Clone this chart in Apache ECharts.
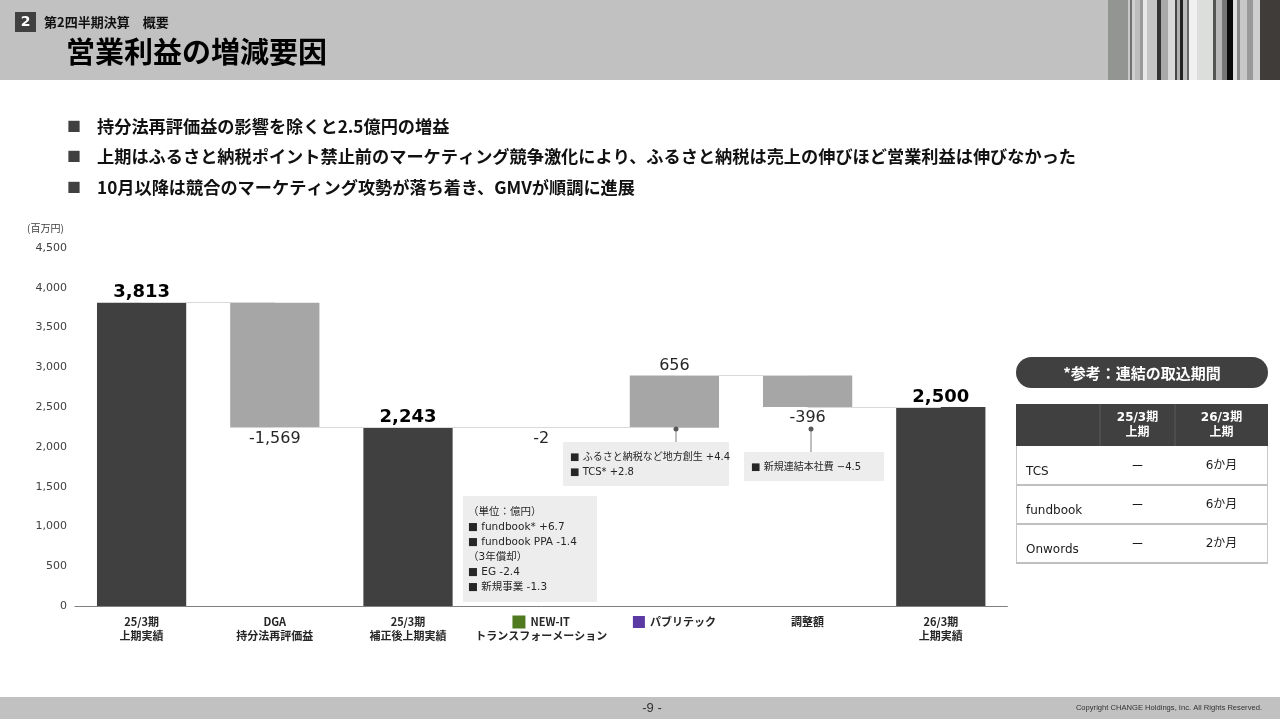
<!DOCTYPE html>
<html><head><meta charset="utf-8">
<script src="https://cdn.jsdelivr.net/npm/echarts@6.0.0/dist/echarts.min.js"></script>
<style>html,body{margin:0;padding:0;background:#fff}#c{width:1280px;height:720px}</style>
</head><body><div id="c"></div>
<script>
// ---- data ----
const categories = ['25/3期\n上期実績', 'DGA\n持分法再評価益', '25/3期\n補正後上期実績', 'NEW-IT\nトランスフォーメーション', 'パブリテック', '調整額', '26/3期\n上期実績'];
const values = [3813, -1569, 2243, -2, 656, -396, 2500];
const isTotal = [true, false, true, false, false, false, true];
const categoryMarks = [null, null, null, 'g', 'p', null, null];
const yMin = 0, yMax = 4500, yStep = 500;
const unitLabel = '(百万円)';
const bullets = [
  '持分法再評価益の影響を除くと2.5億円の増益',
  '上期はふるさと納税ポイント禁止前のマーケティング競争激化により、ふるさと納税は売上の伸びほど営業利益は伸びなかった',
  '10月以降は競合のマーケティング攻勢が落ち着き、GMVが順調に進展'
];
const note1 = ['■ ふるさと納税など地方創生 +4.4', '■ TCS* +2.8'];
const note2 = ['■ 新規連結本社費 −4.5'];
const note3 = ['（単位：億円）', '■ fundbook* +6.7', '■ fundbook PPA -1.4', '（3年償却）', '■ EG -2.4', '■ 新規事業 -1.3'];
const tableTitle = '*参考：連結の取込期間';
const tableHead = ['', '25/3期\n上期', '26/3期\n上期'];
const tableRows = [['TCS', 'ー', '6か月'], ['fundbook', 'ー', '6か月'], ['Onwords', 'ー', '2か月']];

// ---- waterfall computation ----
const bases = [], heights = [], levels = [];
let run = 0;
values.forEach((v, i) => {
  if (isTotal[i]) { bases.push(0); heights.push(v); run = v; }
  else { const s = run, e = run + v; bases.push(Math.min(s, e)); heights.push(Math.abs(v)); run = e; }
  levels.push(run);
});
const fmt = v => (v < 0 ? '-' : '') + Math.abs(v).toLocaleString('en-US');

const CJK = '"Noto Sans CJK JP", sans-serif';
const MIX = '"DejaVu Sans", "Noto Sans CJK JP", sans-serif';
const NUM = '"DejaVu Sans", sans-serif';

const connectors = [];
for (let i = 0; i < values.length - 1; i++) {
  connectors.push([{ coord: [i, levels[i]] }, { coord: [i + 1, levels[i]] }]);
}

// ---- graphics ----
const g = [];
function T(x, y, text, o) {
  o = o || {};
  g.push({ type: 'text', x: x, y: y, z: 10, style: {
    text: text, fill: o.fill || '#1a1a1a',
    font: (o.weight || 'normal') + ' ' + (o.size || 12) + 'px ' + (o.family || CJK),
    textAlign: o.align || 'left', textVerticalAlign: o.valign || 'middle',
    lineHeight: o.lh || undefined
  }});
}
function R(x, y, w, h, fill, o) {
  o = o || {};
  g.push({ type: 'rect', z: o.z || 5, shape: { x: x, y: y, width: w, height: h, r: o.r || 0 },
    style: { fill: fill, stroke: o.stroke || null, lineWidth: o.lw || 0 } });
}
function L(x1, y1, x2, y2, color, w) {
  g.push({ type: 'line', z: 6, shape: { x1: x1, y1: y1, x2: x2, y2: y2 }, style: { stroke: color, lineWidth: w || 1 } });
}
// header
R(0, 0, 1108, 80, '#c0c1c0');
const stripes = [
  [1108, 20, '#939593'], [1128, 2, '#c8c8c8'], [1130, 2, '#707070'], [1132, 3, '#d0d0d0'], [1135, 5, '#bdbdbd'],
  [1140, 3, '#9a9a9a'], [1143, 4, '#e8e8e8'], [1147, 10, '#c5c5c5'], [1157, 4, '#333333'], [1161, 7, '#a9a9a9'],
  [1168, 7, '#d8d8d8'], [1175, 2, '#444444'], [1177, 3, '#b0b0b0'], [1180, 3, '#222222'], [1183, 4, '#bbbbbb'],
  [1187, 2, '#666666'], [1189, 8, '#f0f0f0'], [1197, 16, '#dcdedc'], [1213, 3, '#555555'], [1216, 6, '#b8b8b8'],
  [1222, 5, '#777777'], [1227, 6, '#0a0a0a'], [1233, 4, '#e0e0e0'], [1237, 3, '#888888'], [1240, 7, '#c8c8c8'],
  [1247, 6, '#999999'], [1253, 7, '#cfcfcf'], [1260, 20, '#403c3a']
];
stripes.forEach(s => R(s[0], 0, s[1], 80, s[2]));
R(15, 12, 21, 20, '#404040');
T(25.5, 22.5, '2', { fill: '#fff', weight: 'bold', size: 14, align: 'center', family: NUM });
T(44, 22, '第2四半期決算　概要', { weight: 'bold', size: 13, fill: '#111' });
T(66, 52, '営業利益の増減要因', { weight: 'bold', size: 29, fill: '#000' });
// bullets
bullets.forEach((b, i) => {
  const y = [126, 156, 187][i];
  T(67, y, '■', { size: 14, fill: '#404040' });
  T(97, y, b, { weight: 'bold', size: 17.2, fill: '#111' });
});
// unit
T(27, 228, unitLabel, { size: 10, fill: '#404040' });
// note boxes
R(563, 442, 166, 44, '#ededed');
note1.forEach((t, i) => T(570, 457 + i * 15, t, { size: 10, fill: '#262626', family: MIX }));
R(744, 452, 140, 29, '#ededed');
note2.forEach((t, i) => T(751, 467 + i * 15, t, { size: 10, fill: '#262626', family: MIX }));
R(463, 496, 134, 106, '#ededed');
note3.forEach((t, i) => T(468, 512 + i * 15, t, { size: 10.5, fill: '#262626', family: MIX }));
// callouts
L(676, 429, 676, 442, '#bfbfbf', 2);
L(811, 429, 811, 452, '#bfbfbf', 2);
g.push({ type: 'circle', z: 7, shape: { cx: 676, cy: 429, r: 2.5 }, style: { fill: '#595959' } });
g.push({ type: 'circle', z: 7, shape: { cx: 811, cy: 429, r: 2.5 }, style: { fill: '#595959' } });
// table
R(1016, 357, 252, 31, '#404040', { r: 15.5 });
T(1142, 373, tableTitle, { fill: '#fff', weight: 'bold', size: 15, align: 'center' });
const colX = [1016, 1100, 1175, 1268];
const rowY = [446, 485, 524, 562];
R(1016, 404, 252, 42, '#404040');
L(1100, 404, 1100, 446, '#5a5a5a', 1);
L(1175, 404, 1175, 446, '#5a5a5a', 1);
tableHead.forEach((h, j) => {
  if (!h) return;
  T((colX[j] + colX[j + 1]) / 2, 425, h, { fill: '#fff', weight: 'bold', size: 12, align: 'center', lh: 15, family: MIX });
});
tableRows.forEach((row, i) => {
  const top = rowY[i];
  T(1026, top + 26, row[0], { size: 12, fill: '#1a1a1a', family: MIX });
  T((colX[1] + colX[2]) / 2, top + 20, row[1], { size: 12, fill: '#1a1a1a', align: 'center' });
  T((colX[2] + colX[3]) / 2, top + 20, row[2], { size: 12, fill: '#1a1a1a', align: 'center', family: MIX });
  L(1016, top + 39, 1268, top + 39, '#808080', 1);
});
L(1016.5, 446, 1016.5, 562, '#c8c8c8', 1);
L(1267.5, 446, 1267.5, 562, '#c8c8c8', 1);
// footer
R(0, 697, 1280, 22, '#c0c1c0');
T(652, 708, '-9 -', { size: 13, fill: '#333', align: 'center', family: '"Liberation Sans", sans-serif' });
T(1262, 708, 'Copyright CHANGE Holdings, Inc. All Rights Reserved.', { size: 7.6, fill: '#333', align: 'right', family: '"Liberation Sans", sans-serif' });

// ---- chart ----
const chart = echarts.init(document.getElementById('c'));
chart.setOption({
  animation: false,
  backgroundColor: '#fff',
  grid: { left: 75, right: 272.6, top: 248, bottom: 114 },
  xAxis: {
    type: 'category', data: categories,
    axisLine: { lineStyle: { color: '#7f7f7f', width: 1 } },
    axisTick: { show: false },
    axisLabel: {
      interval: 0, margin: 9,
      formatter: (val, idx) => {
        const lines = val.split('\n').map(l => '{b|' + l + '}');
        const m = categoryMarks[idx];
        if (m) lines[0] = '{' + m + '|}{sp|}' + lines[0];
        return lines.join('\n');
      },
      rich: {
        b: { fontSize: 11, fontWeight: 'bold', color: '#262626', fontFamily: CJK, lineHeight: 14 },
        g: { width: 13, height: 13, backgroundColor: '#4f7a1f' },
        p: { width: 12, height: 12, backgroundColor: '#5b3aa3' },
        sp: { width: 5 }
      }
    }
  },
  yAxis: {
    type: 'value', min: yMin, max: yMax, interval: yStep,
    axisLine: { show: false }, axisTick: { show: false }, splitLine: { show: false },
    axisLabel: { fontSize: 11, color: '#404040', margin: 8, fontFamily: NUM, formatter: v => fmt(v) }
  },
  series: [
    {
      type: 'line', data: [], silent: true, z: 1,
      markLine: {
        silent: true, symbol: 'none', animation: false,
        label: { show: false },
        lineStyle: { color: '#d9d9d9', width: 1, type: 'solid' },
        data: connectors
      }
    },
    {
      type: 'bar', stack: 'w', barWidth: '67%', silent: true, z: 2,
      itemStyle: { color: 'rgba(0,0,0,0)' },
      data: bases
    },
    {
      type: 'bar', stack: 'w', barWidth: '67%', silent: true, z: 3,
      data: heights.map((h, i) => ({
        value: h,
        itemStyle: { color: isTotal[i] ? '#404040' : '#a6a6a6' },
        label: isTotal[i]
          ? { position: 'top', distance: 1, fontSize: 18, fontWeight: 'bold', color: '#000' }
          : { position: values[i] < 0 ? 'bottom' : 'top', distance: values[i] < 0 ? 3 : 2, fontSize: 16, color: '#262626' }
      })),
      label: { show: true, fontFamily: NUM, formatter: p => fmt(values[p.dataIndex]) }
    }
  ],
  graphic: g
});
</script>
</body></html>
